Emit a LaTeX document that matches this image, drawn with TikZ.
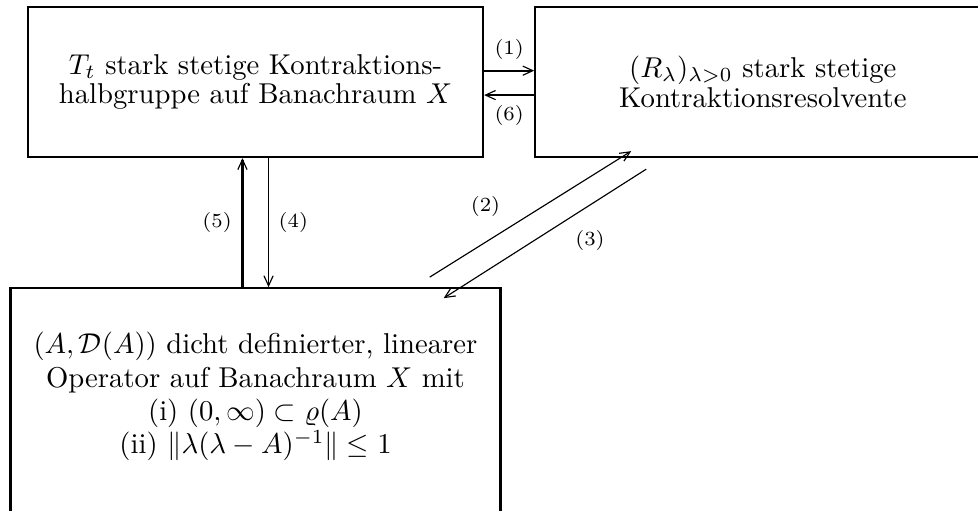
\documentclass[tikz,border=0pt]{standalone}
\usepackage{amsmath,amssymb}
\usepackage{tikz}
\usetikzlibrary{arrows.meta, positioning}
\tikzset{
    box/.style={
        rectangle, draw=black, line width=0.8pt,
        minimum width=5.576cm, minimum height=1.838cm,
        inner sep=0pt, align=center, text centered,
        font=\fontsize{10}{9}\selectfont,
    },
    opframe/.style={
        rectangle, draw=black, line width=0.8pt,
        minimum width=6.005cm, minimum height=3.7cm,
    },
    optext/.style={
        align=center, inner sep=0pt,
        font=\fontsize{10}{11.6}\selectfont,
    },
    implies/.style={-{Straight Barb[length=3.5pt, width=3.2pt, line width=0.4pt]}, line width=0.8pt},
    impliesthin/.style={-{Straight Barb[length=3.5pt, width=3.2pt]}, line width=0.4pt},
    lbl/.style={font=\scriptsize},
}
\begin{document}
\begin{tikzpicture}[node distance=1.0cm and 0.613cm]

    \useasboundingbox (0,0) rectangle (11.985,-6.25);
    \clip (0,0) rectangle (11.985,-6.25);

    \node[box] (semigroup) at (3.131,-1.005) {$T_t$ stark stetige Kontraktions-\\halbgruppe auf Banachraum $X$};
    \node[box, right=of semigroup] (resolvent) {$(R_\lambda)_{\lambda>0}$ stark stetige\\Kontraktionsresolvente};

    \node[opframe, below=1.581cm of semigroup] (operator) {};
    \node[optext] (optext) at ([yshift=-1.34cm]operator.north) {$(A,\mathcal{D}(A))$ dicht definierter, linearer\\Operator auf Banachraum $X$ mit\\(i) $(0,\infty)\subset\varrho(A)$\\(ii) $\|\lambda(\lambda-A)^{-1}\|\le 1$};

    % free ends of the two slanted arrows
    \coordinate (a2) at ([shift={(-0.882,0.123)}]operator.north east);
    \coordinate (b2) at ([shift={(1.189,0.086)}]resolvent.south west);
    \coordinate (a3) at ([shift={(1.373,-0.135)}]resolvent.south west);
    \coordinate (b3) at ([shift={(-0.711,-0.135)}]operator.north east);

    \draw[implies] ([yshift=0.139cm]semigroup.east) -- node[above, lbl] {(1)} ([yshift=0.139cm]resolvent.west);
    \draw[implies] ([yshift=-0.16cm]resolvent.west) -- node[below, lbl] {(6)} ([yshift=-0.16cm]semigroup.east);

    \draw[implies] ([xshift=-0.16cm]operator.north) -- node[left, lbl] {(5)} ([xshift=-0.16cm]operator.north |- semigroup.south);
    \draw[impliesthin] ([xshift=0.16cm]operator.north |- semigroup.south) -- node[right, lbl] {(4)} ([xshift=0.16cm]operator.north);

    \draw[impliesthin] (a2) -- node[pos=0.4, above left, lbl] {(2)} (b2);
    \draw[impliesthin] (a3) -- node[pos=0.4, below right, lbl] {(3)} (b3);

\end{tikzpicture}
\end{document}
